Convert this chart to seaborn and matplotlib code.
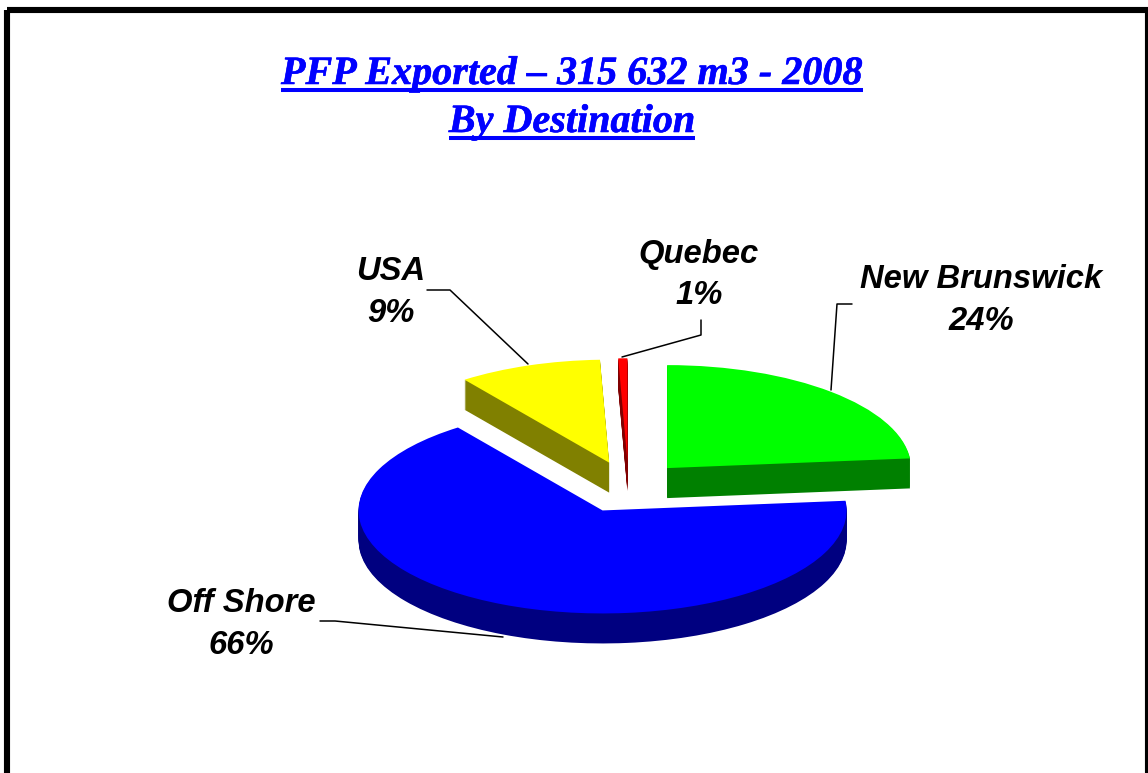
#!/usr/bin/env python3
# -*- coding: utf-8 -*-
# PFP exported by destination, exploded pie with a fake 3d depth
import matplotlib
matplotlib.use('Agg')
import matplotlib.pyplot as plt
import matplotlib.patheffects as pe
from matplotlib.patches import Rectangle
from matplotlib.transforms import Affine2D
import seaborn as sns

# data, shares (they round to the printed labels)
categories = ['New Brunswick', 'Off Shore', 'USA', 'Quebec']
shares = [23.5, 66.4, 9.5, 0.6]
share_labels = ['24%', '66%', '9%', '1%']
top_colors = ['#00FF00', '#0000FF', '#FFFF00', '#FF0000']
side_colors = ['#008000', '#000080', '#808000', '#800000']
title_lines = ['PFP Exported \u2013 315 632 m3 - 2008', 'By Destination']

W, H = 1148, 773
CX, CY = 628.5, 486   # pie centre in picture pixels
RX, RY = 244, 103     # radius of the squashed pie
DEPTH = 30
EXPLODE = [0.235, 0.26, 0.24, 0.24]

sns.set_theme(style='white')

fig = plt.figure(figsize=(W / 100, H / 100), dpi=100, facecolor='white')
ax = fig.add_axes([0, 0, 1, 1])

# side first, one darker pie per pixel of depth, then the top
for d in range(DEPTH, 0, -1):
    ax.pie(shares, explode=EXPLODE, colors=side_colors, startangle=90,
           counterclock=False, center=(0, -d / RY), wedgeprops={'linewidth': 0})
ax.pie(shares, explode=EXPLODE, colors=top_colors, startangle=90,
       counterclock=False, center=(0, 0), wedgeprops={'linewidth': 0})

# the pie is a circle in data units, so the limits do the squashing
ax.set_aspect('auto')
ax.set_xlim(-CX / RX, (W - CX) / RX)
ax.set_ylim((CY - H) / RY, CY / RY)
ax.axis('off')

# everything else is placed in picture pixels, y going down
px = Affine2D().scale(1, -1).translate(0, H)

# border, the right side runs off the picture
fig.add_artist(Rectangle((7, 10), W - 7, H + 20, transform=px, fill=False,
                         edgecolor='black', linewidth=4.4))

# title, matplotlib has no underline so draw it from the text extent
renderer = fig.canvas.get_renderer()
for line, y in zip(title_lines, [84, 132]):
    t = ax.text(572, y, line, transform=px, ha='center', va='baseline',
                family='Liberation Serif', style='italic', weight='bold',
                fontsize=28.9, color='#0000FF',
                path_effects=[pe.withStroke(linewidth=0.4, foreground='#0000FF')])
    bb = t.get_window_extent(renderer)
    fig.add_artist(plt.Line2D([bb.x0, bb.x1], [y + 6, y + 6], color='#0000FF', lw=2.9,
                              solid_capstyle='butt', transform=px))

# labels with leader lines
label_pos = [(981, 279.5), (241, 603.5), (391, 271.5), (699, 254.5)]
leaders = [
    [(831, 390), (837, 304), (852, 304)],
    [(503, 637), (335, 621), (320, 621)],
    [(528, 364), (450, 290), (427, 290)],
    [(622, 357), (701, 335), (701, 320)],
]
for name, pct, (x, y), path in zip(categories, share_labels, label_pos, leaders):
    for txt, yy in zip([name, pct], [y, y + 41.5]):
        ax.text(x, yy, txt, transform=px, ha='center', va='center',
                family='Liberation Sans', style='italic', weight='bold',
                fontsize=23.6, color='black')
    ax.plot([p[0] for p in path], [p[1] for p in path], color='black', lw=1.1,
            transform=px, clip_on=False)

fig.savefig('out.png', dpi=100)
